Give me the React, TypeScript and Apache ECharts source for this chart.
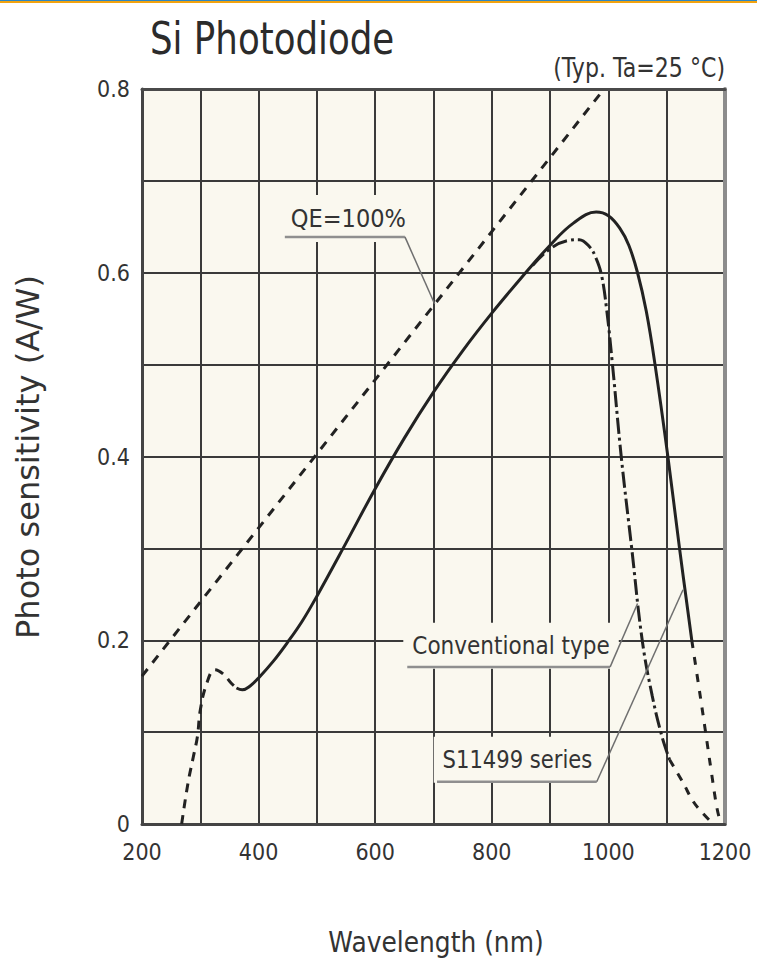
import React, { useEffect, useRef } from "react";
import * as echarts from "echarts";

// Tick labels shown on the axes (grid lines are every 100 nm / 0.1 A/W)
const X_LABELS = [200, 400, 600, 800, 1000, 1200];
const Y_LABELS = [0, 0.2, 0.4, 0.6, 0.8];

// Theoretical limit, QE = 100 %
const QE_X = [200, 990];
const QE_Y = [0.161, 0.798];

// UV region shared by both types (dashed)
const UV_X = [268, 279, 288, 295, 300, 311, 325, 340, 352, 362];
const UV_Y = [0.0, 0.045, 0.073, 0.095, 0.124, 0.153, 0.168, 0.163, 0.154, 0.148];

// S11499 series (solid)
const S11499_X = [362, 372, 385, 400, 425, 450, 475, 500, 550, 600, 650, 700, 750, 800, 850, 900, 940, 979, 1000, 1020, 1035, 1050, 1065, 1080, 1102, 1122, 1143];
const S11499_Y = [0.148, 0.146, 0.15, 0.159, 0.177, 0.198, 0.221, 0.248, 0.306, 0.365, 0.42, 0.47, 0.515, 0.556, 0.594, 0.63, 0.654, 0.666, 0.662, 0.648, 0.63, 0.6, 0.558, 0.5, 0.4, 0.3, 0.2];
const S11499_TAIL_X = [1143, 1155, 1166, 1177, 1186, 1192];
const S11499_TAIL_Y = [0.2, 0.15, 0.103, 0.055, 0.018, 0.002];

// Conventional type (dash-dot), branching off near 870 nm
const CONV_X = [870, 900, 930, 950, 968, 978, 988, 997, 1007, 1022, 1040, 1058, 1075, 1092, 1105];
const CONV_Y = [0.608, 0.626, 0.635, 0.636, 0.628, 0.617, 0.598, 0.56, 0.5, 0.4, 0.3, 0.2, 0.14, 0.095, 0.07];
const CONV_TAIL_X = [1105, 1128, 1145, 1160, 1175];
const CONV_TAIL_Y = [0.07, 0.045, 0.025, 0.013, 0.003];

const FONT = "'DejaVu Sans', Verdana, sans-serif";
const COND = "'DejaVu Sans Condensed', 'DejaVu Sans', sans-serif";
const PLOT_BG = "#faf8ef";
const INK = "#222";

// Callout labels, anchored in data units (wavelength, A/W)
const CALLOUTS = [
  { text: "QE=100%", at: [554, 0.659], fontSize: 25, scaleX: 0.9, line: [[445, 0.639], [651, 0.639]], to: [702, 0.566] },
  { text: "Conventional type", at: [833, 0.194], fontSize: 24, scaleX: 0.9, line: [[655, 0.171], [1003, 0.171]], to: [1050, 0.24] },
  { text: "S11499 series", at: [844, 0.07], fontSize: 24, scaleX: 0.88, line: [[706, 0.046], [980, 0.046]], to: [1128, 0.255] },
];

const zip = (xs: number[], ys: number[]) => xs.map((x, i) => [x, ys[i]]);

function lineSeries(name: string, data: number[][], type: any, smooth = 0.4) {
  return {
    type: "line",
    name,
    data,
    symbol: "none",
    smooth,
    silent: true,
    lineStyle: { color: INK, width: 3, type },
    z: 3,
  };
}

export default function App() {
  const ref = useRef<HTMLDivElement>(null);

  useEffect(() => {
    document.body.style.margin = "0";
    const chart = echarts.init(ref.current!, undefined, { renderer: "svg" });

    const axisCommon = {
      axisTick: { show: false },
    };

    chart.setOption({
      animation: false,
      grid: { left: 142, right: 32, top: 89, bottom: 141, show: true, backgroundColor: PLOT_BG, borderWidth: 0 },
      xAxis: [
        {
          ...axisCommon,
          type: "value",
          min: 200,
          max: 1200,
          interval: 100,
          axisLine: { show: true, onZero: false, lineStyle: { color: "#444", width: 3 } },
          splitLine: { show: true, showMinLine: false, showMaxLine: false, lineStyle: { color: "#3a3a3a", width: 2 } },
          axisLabel: {
            formatter: (v: number) => (X_LABELS.includes(v) ? String(v) : ""),
            fontSize: 23,
            fontFamily: COND,
            color: "#333",
            margin: 16,
          },
        },
        {
          ...axisCommon,
          type: "value",
          position: "top",
          min: 200,
          max: 1200,
          interval: 100,
          axisLine: { show: true, onZero: false, lineStyle: { color: "#4a4a4a", width: 3 } },
          splitLine: { show: false },
          axisLabel: { show: false },
        },
      ],
      yAxis: [
        {
          ...axisCommon,
          type: "value",
          min: 0,
          max: 0.8,
          interval: 0.1,
          axisLine: { show: true, onZero: false, lineStyle: { color: "#444", width: 3 } },
          splitLine: { show: true, showMinLine: false, showMaxLine: false, lineStyle: { color: "#3a3a3a", width: 2 } },
          axisLabel: {
            formatter: (v: number) => {
              const r = Math.round(v * 10) / 10;
              if (!Y_LABELS.includes(r)) return "";
              return r === 0 ? "0" : r.toFixed(1);
            },
            fontSize: 23,
            fontFamily: COND,
            color: "#333",
            margin: 12,
          },
        },
        {
          ...axisCommon,
          type: "value",
          position: "right",
          min: 0,
          max: 0.8,
          interval: 0.1,
          axisLine: { show: true, onZero: false, lineStyle: { color: "#8c8c8c", width: 4 } },
          splitLine: { show: false },
          axisLabel: { show: false },
        },
      ],
      series: [
        lineSeries("QE=100%", zip(QE_X, QE_Y), [9, 8], 0),
        lineSeries("UV", zip(UV_X, UV_Y), [9, 7]),
        lineSeries("S11499 series", zip(S11499_X, S11499_Y), "solid"),
        lineSeries("S11499 series tail", zip(S11499_TAIL_X, S11499_TAIL_Y), [8, 9]),
        lineSeries("Conventional type", zip(CONV_X, CONV_Y), [16, 4, 3, 4]),
        lineSeries("Conventional type tail", zip(CONV_TAIL_X, CONV_TAIL_Y), [8, 8]),
      ],
    });

    const px = (p: number[]) => chart.convertToPixel({ seriesIndex: 0 }, p) as number[];

    const callouts: any[] = [];
    CALLOUTS.forEach((c) => {
      const [tx, ty] = px(c.at);
      const a = px(c.line[0]);
      const b = px(c.line[1]);
      const e = px(c.to);
      callouts.push(
        {
          type: "text",
          x: tx,
          y: ty,
          scaleX: c.scaleX,
          z: 10,
          style: {
            text: c.text,
            fontSize: c.fontSize,
            fontFamily: FONT,
            fill: "#333",
            align: "center",
            verticalAlign: "middle",
            backgroundColor: PLOT_BG,
            padding: [8, 10, 14, 10],
          },
        },
        {
          type: "line",
          z: 11,
          shape: { x1: a[0], y1: a[1], x2: b[0], y2: b[1] },
          style: { stroke: "#8f8f8f", lineWidth: 2.5 },
        },
        {
          type: "line",
          z: 11,
          shape: { x1: b[0], y1: b[1], x2: e[0], y2: e[1] },
          style: { stroke: "#6f6f6f", lineWidth: 1.5 },
        }
      );
    });

    chart.setOption({
      graphic: [
        { type: "rect", shape: { x: 0, y: 0, width: 757, height: 1 }, style: { fill: "#2d86c4" } },
        { type: "rect", shape: { x: 0, y: 1, width: 757, height: 2 }, style: { fill: "#f2a30f" } },
        {
          type: "text",
          x: 150,
          y: 39,
          scaleX: 0.81,
          style: { text: "Si Photodiode", fontSize: 44, fontFamily: FONT, fill: "#2b2b2b", align: "left", verticalAlign: "middle" },
        },
        {
          type: "text",
          x: 725,
          y: 68,
          scaleX: 0.85,
          style: { text: "(Typ. Ta=25 °C)", fontSize: 26, fontFamily: FONT, fill: "#333", align: "right", verticalAlign: "middle" },
        },
        {
          type: "text",
          x: 28,
          y: 457,
          rotation: Math.PI / 2,
          style: { text: "Photo sensitivity (A/W)", fontSize: 32, fontFamily: FONT, fill: "#333", align: "center", verticalAlign: "middle" },
        },
        {
          type: "text",
          x: 436,
          y: 942,
          scaleX: 0.86,
          style: { text: "Wavelength (nm)", fontSize: 29, fontFamily: FONT, fill: "#333", align: "center", verticalAlign: "middle" },
        },
        ...callouts,
      ],
    });

    return () => chart.dispose();
  }, []);

  return <div ref={ref} style={{ width: 757, height: 965 }} />;
}
